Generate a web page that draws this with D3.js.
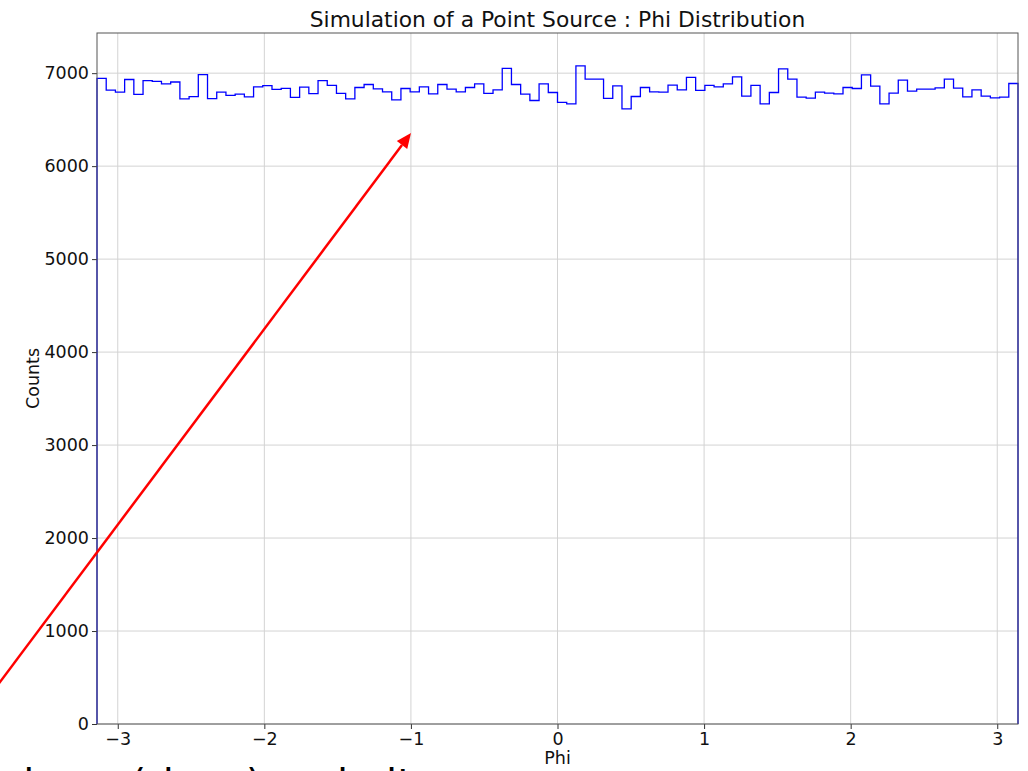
<!DOCTYPE html>
<html>
<head>
<meta charset="utf-8">
<script src="https://cdn.jsdelivr.net/npm/d3@7"></script>
<style>
  html, body { margin: 0; padding: 0; background: #fff; overflow: hidden; }
  svg { display: block; font-family: "DejaVu Sans", sans-serif; }
</style>
</head>
<body>
<svg id="chart" width="1028" height="771"></svg>
<script>
// ---- data ----
const title = "Simulation of a Point Source : Phi Distribution";
const xLabel = "Phi";
const yLabel = "Counts";
const xTicks = [-3, -2, -1, 0, 1, 2, 3];
const yTicks = [0, 1000, 2000, 3000, 4000, 5000, 6000, 7000];
const nBins = 100;
const counts = [
  6943,6817,6796,6932,6772,6919,6912,6885,6905,6723,
  6747,6984,6726,6796,6761,6774,6744,6852,6866,6825,
  6837,6740,6849,6780,6919,6868,6782,6724,6846,6878,
  6831,6799,6713,6835,6799,6853,6777,6878,6828,6799,
  6846,6885,6782,6820,7051,6878,6774,6706,6885,6792,
  6685,6670,7078,6935,6935,6728,6863,6616,6749,6846,
  6799,6796,6871,6820,6954,6814,6868,6853,6885,6960,
  6753,6868,6670,6792,7046,6935,6742,6731,6796,6785,
  6777,6846,6835,6982,6860,6670,6785,6925,6806,6828,
  6828,6842,6935,6839,6745,6820,6753,6734,6742,6889
];
const annotationText = "nis an (rixon) an in it";

// ---- layout ----
const m = { left: 97, right: 1018, top: 33, bottom: 724 };
const svg = d3.select("#chart");

const x = d3.scaleLinear().domain([-Math.PI, Math.PI]).range([m.left, m.right]);
const y = d3.scaleLinear().domain([0, d3.max(counts) * 1.05]).range([m.bottom, m.top]);

const binW = 2 * Math.PI / nBins;
const edges = d3.range(nBins + 1).map(i => -Math.PI + i * binW);

// grid
const grid = svg.append("g");
grid.selectAll("line.gx").data(xTicks).join("line")
  .attr("x1", d => x(d)).attr("x2", d => x(d))
  .attr("y1", m.top).attr("y2", m.bottom)
  .attr("stroke", "#d3d3d3").attr("stroke-width", 1);
grid.selectAll("line.gy").data(yTicks).join("line")
  .attr("y1", d => y(d)).attr("y2", d => y(d))
  .attr("x1", m.left).attr("x2", m.right)
  .attr("stroke", "#d3d3d3").attr("stroke-width", 1);

// histogram step
const pts = [[edges[0], 0]];
counts.forEach((c, i) => { pts.push([edges[i], c]); pts.push([edges[i + 1], c]); });
pts.push([edges[nBins], 0]);
svg.append("path")
  .attr("d", d3.line().x(d => x(d[0])).y(d => y(d[1]))(pts))
  .attr("fill", "none").attr("stroke", "#0000ff").attr("stroke-width", 1.3);

// axes
const fmt = d3.format("d");
const xAxis = d3.axisBottom(x).tickValues(xTicks).tickFormat(d => fmt(d)).tickSize(5).tickSizeOuter(0);
const yAxis = d3.axisLeft(y).tickValues(yTicks).tickFormat(d => fmt(d)).tickSize(5).tickSizeOuter(0);
const gx = svg.append("g").attr("transform", `translate(0,${m.bottom})`).call(xAxis);
const gy = svg.append("g").attr("transform", `translate(${m.left},0)`).call(yAxis);
[gx, gy].forEach(g => {
  g.select(".domain").remove();
  g.selectAll(".tick line").attr("stroke", "#333").attr("stroke-width", 1);
  g.selectAll(".tick text").attr("fill", "#111").style("font-size", "17.5px")
    .style("font-family", "DejaVu Sans, sans-serif");
});
gx.selectAll(".tick text").attr("dy", "0.95em").attr("y", 4);
gy.selectAll(".tick text").attr("x", -8);

// spines
svg.append("rect")
  .attr("x", m.left).attr("y", m.top)
  .attr("width", m.right - m.left).attr("height", m.bottom - m.top)
  .attr("fill", "none").attr("stroke", "#555").attr("stroke-width", 1);

// title and labels
svg.append("text").attr("x", (m.left + m.right) / 2).attr("y", 27)
  .attr("text-anchor", "middle").style("font-size", "21.8px").attr("fill", "#111").text(title);
svg.append("text").attr("x", (m.left + m.right) / 2).attr("y", 764)
  .attr("text-anchor", "middle").style("font-size", "17.5px").attr("fill", "#111").text(xLabel);
svg.append("text").attr("transform", `translate(39,${(m.top + m.bottom) / 2}) rotate(-90)`)
  .attr("text-anchor", "middle").style("font-size", "17.5px").attr("fill", "#111").text(yLabel);

// red annotation arrow
const tail = [0, 682], tip = [411, 133];
const ang = Math.atan2(tip[1] - tail[1], tip[0] - tail[0]);
const headL = 15, headW = 6.5;
const base = [tip[0] - headL * Math.cos(ang), tip[1] - headL * Math.sin(ang)];
svg.append("line")
  .attr("x1", tail[0] - 10 * Math.cos(ang)).attr("y1", tail[1] - 10 * Math.sin(ang))
  .attr("x2", base[0]).attr("y2", base[1])
  .attr("stroke", "#ff0000").attr("stroke-width", 2.5);
const px = -Math.sin(ang), py = Math.cos(ang);
svg.append("path")
  .attr("d", `M${tip[0]},${tip[1]}L${base[0] + headW * px},${base[1] + headW * py}L${base[0] - headW * px},${base[1] - headW * py}Z`)
  .attr("fill", "#ff0000");

// clipped caption text at the bottom edge (only its top shows)
svg.append("text").attr("x", -2).attr("y", 798)
  .style("font-size", "40px").attr("fill", "#000").text(annotationText);
</script>
</body>
</html>
